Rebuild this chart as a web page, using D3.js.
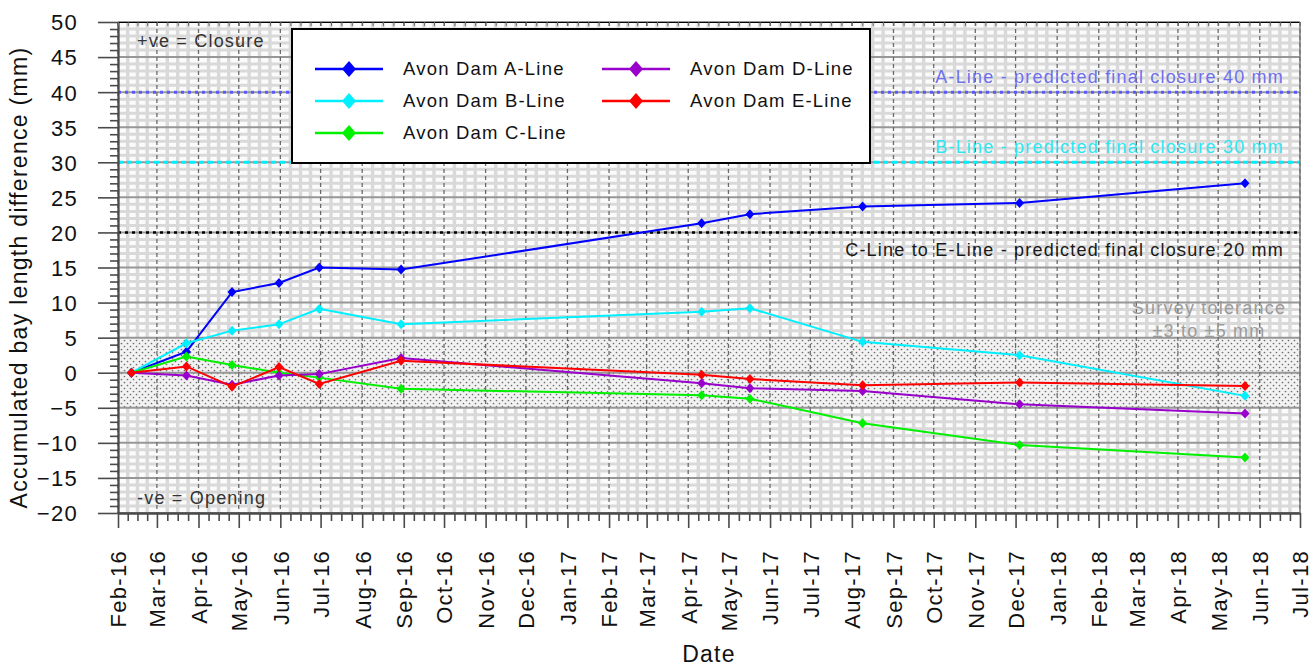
<!DOCTYPE html>
<html>
<head>
<meta charset="utf-8">
<script src="https://cdn.jsdelivr.net/npm/d3@7"></script>
<style>
  html, body { margin: 0; padding: 0; background: #fff; }
  svg text { font-family: "Liberation Sans", Arial, Helvetica, sans-serif; }
</style>
</head>
<body>
<svg id="chart" width="1312" height="666"></svg>
<script>
// Survey dates and accumulated bay length difference (mm) for each line
const surveyDates = ["2016-02-11", "2016-03-23", "2016-04-26", "2016-05-31", "2016-06-30",
                     "2016-08-30", "2017-04-11", "2017-05-17", "2017-08-09", "2017-12-04", "2018-05-21"];
const aLine = [0, 3.0, 11.5, 12.8, 15.0, 14.7, 21.3, 22.6, 23.7, 24.2, 27.0];
const bLine = [0, 4.2, 6.0, 6.9, 9.1, 6.9, 8.7, 9.2, 4.4, 2.5, -3.3];
const cLine = [0, 2.3, 1.1, 0.0, -0.7, -2.3, -3.2, -3.7, -7.2, -10.3, -12.1];
const dLine = [0, -0.4, -1.7, -0.4, -0.2, 2.1, -1.5, -2.2, -2.6, -4.5, -5.8];
const eLine = [0, 0.9, -2.0, 0.8, -1.6, 1.7, -0.3, -0.9, -1.8, -1.4, -1.9];

const seriesNames = ["Avon Dam A-Line", "Avon Dam B-Line", "Avon Dam C-Line", "Avon Dam D-Line", "Avon Dam E-Line"];
const seriesColors = ["#0000ff", "#00f0ff", "#00f000", "#9900cc", "#ff0000"];

// Predicted final closure levels
const refValues = [40, 30, 20];
const refLabels = ["A-Line - predicted final closure 40 mm",
                   "B-Line - predicted final closure 30 mm",
                   "C-Line to E-Line - predicted final closure 20 mm"];
const refColors = ["#5a5aff", "#00f0ff", "#000000"];
const refTextColors = ["#6f6fee", "#2ee6f2", "#1a1a1a"];

// Survey tolerance band
const toleranceBand = [-5, 5];
const toleranceLabels = ["Survey tolerance", "\u00b13 to \u00b15 mm"];

// Axis ranges / ticks
const yDomain = [-20, 50];
const yMajorStep = 5;
const xStart = "2016-02-01", xEnd = "2018-07-01";

const parse = d3.utcParse("%Y-%m-%d");
const dates = surveyDates.map(parse);
const allSeries = [aLine, bLine, cLine, dLine, eLine];

const svg = d3.select("#chart");
const L = 118, R = 1300, T = 22, B = 513;

const x = d3.scaleUtc().domain([parse(xStart), parse(xEnd)]).range([L, R]);
const y = d3.scaleLinear().domain(yDomain).range([B, T]);

const months = d3.utcMonth.range(parse(xStart), d3.utcMonth.offset(parse(xEnd), 1));
const quarterTicks = [];
for (let i = 0; i < months.length - 1; i++) {
  const a = +months[i], b = +months[i + 1];
  for (let k = 1; k < 4; k++) quarterTicks.push(new Date(a + (b - a) * k / 4));
}
const yMajor = d3.range(yDomain[0], yDomain[1] + 1, yMajorStep);
const yMinor = d3.range(yDomain[0], yDomain[1] + 1).filter(v => v % yMajorStep !== 0);

// Patterns
const defs = svg.append("defs");
const dots = defs.append("pattern").attr("id", "dots").attr("patternUnits", "userSpaceOnUse")
  .attr("width", 6).attr("height", 6);
dots.append("rect").attr("width", 6).attr("height", 6).attr("fill", "#f2f2f2");
dots.append("circle").attr("cx", 1.5).attr("cy", 1.5).attr("r", 0.85).attr("fill", "#6e6e6e");
dots.append("circle").attr("cx", 4.5).attr("cy", 4.5).attr("r", 0.85).attr("fill", "#6e6e6e");

// Plot background with minor grid
const grid = svg.append("g");
grid.append("rect").attr("x", L).attr("y", T).attr("width", R - L).attr("height", B - T).attr("fill", "#fbfbfb");
grid.selectAll(".hmin").data(yMinor).join("line")
  .attr("x1", L).attr("x2", R).attr("y1", d => y(d)).attr("y2", d => y(d))
  .attr("stroke", "#d9d9d9").attr("stroke-width", 3);
grid.selectAll(".vmin").data(quarterTicks).join("line")
  .attr("x1", d => x(d)).attr("x2", d => x(d)).attr("y1", T).attr("y2", B)
  .attr("stroke", "#d9d9d9").attr("stroke-width", 3.4);

// Tolerance band
grid.append("rect").attr("x", L).attr("width", R - L)
  .attr("y", y(toleranceBand[1])).attr("height", y(toleranceBand[0]) - y(toleranceBand[1]))
  .attr("fill", "url(#dots)");

// Major grid
grid.selectAll(".hmaj").data(yMajor).join("line")
  .attr("x1", L).attr("x2", R).attr("y1", d => y(d)).attr("y2", d => y(d))
  .attr("stroke", "#979797").attr("stroke-width", 2);
grid.selectAll(".vmaj").data(months).join("line")
  .attr("x1", d => x(d)).attr("x2", d => x(d)).attr("y1", T).attr("y2", B)
  .attr("stroke", "#6a6a6a").attr("stroke-width", 1.3).attr("stroke-dasharray", "4,3");

// Predicted closure lines
const refG = svg.append("g");
refG.selectAll("line").data(refValues).join("line")
  .attr("x1", L).attr("x2", R).attr("y1", d => y(d)).attr("y2", d => y(d))
  .attr("stroke", (d, i) => refColors[i]).attr("stroke-width", (d, i) => i === 2 ? 2.6 : 3)
  .attr("stroke-dasharray", (d, i) => i === 1 ? "5,4" : "3,4");

const textStyle = sel => sel.attr("font-size", 18).attr("letter-spacing", 1.2);
refG.selectAll("text").data(refValues).join("text")
  .attr("x", 1284).attr("y", (d, i) => i === 2 ? y(d) + 24 : y(d) - 9)
  .attr("text-anchor", "end").attr("fill", (d, i) => refTextColors[i])
  .call(textStyle).text((d, i) => refLabels[i]);

svg.append("g").selectAll("text").data(toleranceLabels).join("text")
  .attr("x", 1209).attr("y", (d, i) => y(toleranceBand[1]) - 24 + i * 23)
  .attr("text-anchor", "middle").attr("fill", "#9b9b9b").call(textStyle).text(d => d);

svg.append("text").attr("x", 137).attr("y", y(yDomain[1]) + 25).attr("fill", "#333")
  .call(textStyle).text("+ve = Closure");
svg.append("text").attr("x", 137).attr("y", y(yDomain[0]) - 9).attr("fill", "#333")
  .call(textStyle).text("-ve = Opening");

// Diamond marker path
const diamond = (hw, hh) => `M0,${-hh}L${hw},0L0,${hh}L${-hw},0Z`;

// Data series
const lineGen = d3.line().x(d => x(d.date)).y(d => y(d.value));
allSeries.forEach((vals, si) => {
  const pts = vals.map((v, i) => ({ date: dates[i], value: v }));
  const g = svg.append("g");
  g.append("path").datum(pts).attr("d", lineGen).attr("fill", "none")
    .attr("stroke", seriesColors[si]).attr("stroke-width", 2);
  g.selectAll("path.m").data(pts).join("path").attr("class", "m")
    .attr("d", diamond(4.5, 5))
    .attr("transform", d => `translate(${x(d.date)},${y(d.value)})`)
    .attr("fill", seriesColors[si]);
});

// Legend
const leg = svg.append("g");
leg.append("rect").attr("x", 292).attr("y", 29).attr("width", 578).attr("height", 134)
  .attr("fill", "#fff").attr("stroke", "#000").attr("stroke-width", 2);
const legPos = [[0, 0], [0, 1], [0, 2], [1, 0], [1, 1]];
const colX = [315, 602], rowY = [69, 101, 133];
seriesNames.forEach((name, i) => {
  const cx = colX[legPos[i][0]], cy = rowY[legPos[i][1]];
  leg.append("line").attr("x1", cx).attr("x2", cx + 68).attr("y1", cy).attr("y2", cy)
    .attr("stroke", seriesColors[i]).attr("stroke-width", 2.5);
  leg.append("path").attr("d", diamond(7, 8)).attr("transform", `translate(${cx + 34},${cy})`)
    .attr("fill", seriesColors[i]);
  leg.append("text").attr("x", cx + 88).attr("y", cy + 6).attr("font-size", 18.5)
    .attr("letter-spacing", 1.2).attr("fill", "#111").text(name);
});

// Axes
const tickFont = sel => sel.selectAll("text").attr("font-size", 22).attr("letter-spacing", 1.3).attr("fill", "#111");

const yAxisMinor = svg.append("g").attr("transform", `translate(${L},0)`)
  .call(d3.axisLeft(y).tickValues(yMinor).tickSize(8).tickSizeOuter(0).tickFormat(""));
const yAxis = svg.append("g").attr("transform", `translate(${L},0)`)
  .call(d3.axisLeft(y).tickValues(yMajor).tickSize(20).tickSizeOuter(0).tickPadding(20));
yAxis.call(tickFont);
yAxis.selectAll("text").attr("dy", "0.36em");

const xAxisMinor = svg.append("g").attr("transform", `translate(0,${B})`)
  .call(d3.axisBottom(x).tickValues(quarterTicks).tickSize(8).tickSizeOuter(0).tickFormat(""));
const xAxis = svg.append("g").attr("transform", `translate(0,${B})`)
  .call(d3.axisBottom(x).tickValues(months).tickSize(15).tickSizeOuter(0).tickFormat(d3.utcFormat("%b-%y")));
xAxis.call(tickFont);
xAxis.selectAll("text")
  .attr("x", 0).attr("y", 0).attr("dy", "0.36em").attr("text-anchor", "end")
  .attr("transform", "translate(0,37) rotate(-90)");

// Top edge ticks
svg.append("g").attr("transform", `translate(0,${T})`)
  .call(d3.axisBottom(x).tickValues(months.concat(quarterTicks)).tickSize(4).tickSizeOuter(0).tickFormat(""))
  .call(g => g.selectAll("line").attr("stroke", "#666"));

[yAxis, yAxisMinor, xAxis, xAxisMinor].forEach(g => {
  g.selectAll(".tick line").attr("stroke", "#4a4a4a").attr("stroke-width", 1.6);
  g.select(".domain").attr("stroke", "#4a4a4a").attr("stroke-width", 1.8);
});

// Right border
svg.append("line").attr("x1", R).attr("x2", R).attr("y1", T).attr("y2", B)
  .attr("stroke", "#777").attr("stroke-width", 1.5);

// Axis titles
svg.append("text").attr("transform", `translate(27,${(T + B) / 2 + 10}) rotate(-90)`)
  .attr("text-anchor", "middle").attr("font-size", 23).attr("letter-spacing", 1.3).attr("fill", "#111")
  .text("Accumulated bay length difference (mm)");
svg.append("text").attr("x", (L + R) / 2).attr("y", 662).attr("text-anchor", "middle")
  .attr("font-size", 23).attr("letter-spacing", 1.2).attr("fill", "#111").text("Date");
</script>
</body>
</html>
